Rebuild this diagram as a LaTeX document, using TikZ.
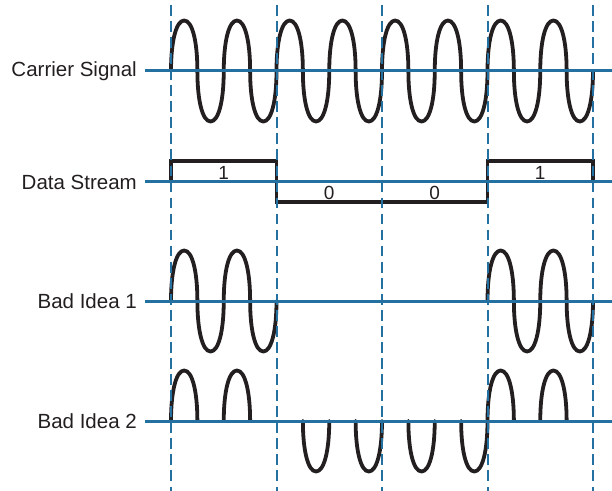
\documentclass[tikz,border=0pt]{standalone}
\usepackage{fontspec}
\setmainfont{Liberation Sans}
\definecolor{lineblue}{HTML}{2470A0}
\definecolor{ink}{HTML}{231F20}
\tikzset{
  axisline/.style={draw=lineblue, line width=3bp},
  gridline/.style={draw=lineblue, line width=2bp, dash pattern=on 10.7bp off 5.35bp},
  wave/.style={draw=ink, line width=3.8bp, line join=round, line cap=round},
  rowlabel/.style={anchor=east, inner sep=0pt, text=ink, font=\fontsize{20.5bp}{24bp}\selectfont},
  bitlabel/.style={inner sep=0pt, text=ink, font=\fontsize{19bp}{22bp}\selectfont}
}
% one half-cycle lobe: #1 start x, #2 baseline y, #3 height (positive = up)
\newcommand{\wavelobe}[3]{%
  \draw[wave] (#1,#2) .. controls (#1,{#2-0.6*(#3)}) and ({#1+5.275},{#2-(#3)})
    .. ({#1+13.1875},{#2-(#3)}) .. controls ({#1+21.1},{#2-(#3)}) and ({#1+26.375},{#2-0.6*(#3)})
    .. ({#1+26.375},#2);}
\begin{document}
\begin{tikzpicture}[x=1bp,y=-1bp]
\useasboundingbox (0,0) rectangle (612,491);
% row labels
\node[rowlabel] (lc) at (137,71) {Carrier Signal};
\node[rowlabel] (ld) at (137,182) {Data Stream};
\node[rowlabel] (l1) at (137,301) {Bad Idea 1};
\node[rowlabel] (l2) at (137,421) {Bad Idea 2};
% axis coordinates
\foreach \n/\y in {c/71,d/182,a/301,b/421}{
  \coordinate (\n s) at (145,\y);
  \coordinate (\n e) at (612,\y);
}
% carrier: 16 half-cycles
\foreach \i in {0,...,15}{
  \pgfmathsetmacro{\xa}{171+26.375*\i}
  \pgfmathsetmacro{\hh}{50.5*(1-2*mod(\i,2))}
  \wavelobe{\xa}{71}{\hh}
}
% data stream
\coordinate (d0) at (171,182);
\coordinate (d1) at (171,161);
\coordinate (d2) at (276.5,161);
\coordinate (d3) at (276.5,202);
\coordinate (d4) at (487.5,202);
\coordinate (d5) at (487.5,161);
\coordinate (d6) at (593,161);
\coordinate (d7) at (593,182);
\draw[wave, line width=3.3bp, line cap=butt, line join=miter] (d0) -- (d1) -- (d2) -- (d3) -- (d4) -- (d5) -- (d6) -- (d7);
\node[bitlabel] (b1) at (223.75,172.5) {1};
\node[bitlabel] (b2) at (329.25,193) {0};
\node[bitlabel] (b3) at (434.75,193) {0};
\node[bitlabel] (b4) at (540.25,172.5) {1};
% bad idea 1
\foreach \s/\hh in {171/50.5,197.375/-50.5,223.75/50.5,250.125/-50.5,487.5/50.5,513.875/-50.5,540.25/50.5,566.625/-50.5}{
  \wavelobe{\s}{301}{\hh}
}
% bad idea 2 (half lobes only)
\foreach \s/\hh in {171/50.5,223.75/50.5,302.875/-50.5,355.625/-50.5,408.375/-50.5,461.125/-50.5,487.5/50.5,540.25/50.5}{
  \wavelobe{\s}{421}{\hh}
}
% axis lines
\draw[axisline] (cs) -- (ce);
\draw[axisline] (ds) -- (de);
\draw[axisline] (as) -- (ae);
\draw[axisline] (bs) -- (be);
% dashed bit boundaries
\foreach \i/\x in {1/171,2/276.5,3/382,4/487.5,5/593}{
  \coordinate (g\i t) at (\x,5);
  \coordinate (g\i b) at (\x,491);
  \draw[gridline] (g\i t) -- (g\i b);
}
\end{tikzpicture}
\end{document}
